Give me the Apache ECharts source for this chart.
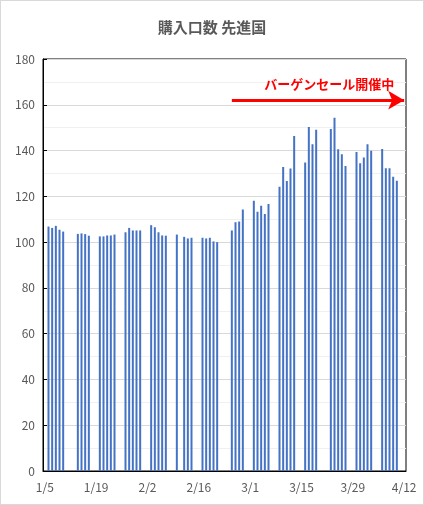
<!DOCTYPE html>
<html><head><meta charset="utf-8">
<script src="https://cdn.jsdelivr.net/npm/echarts@6/dist/echarts.min.js"></script>
<style>body{margin:0}#c{width:424px;height:505px;box-sizing:border-box;border:1px solid #d9d9d9}</style>
</head><body><div id="c"></div>
<script>
// 2020/1/5 .. 2020/4/12, daily; weekends and holidays have no value
var startDate = new Date(2020, 0, 5);
var dayCount = 99;
var values = {
  '1/6':106.8,'1/7':106.2,'1/8':107.1,'1/9':105.4,'1/10':104.6,
  '1/14':103.6,'1/15':103.8,'1/16':103.5,'1/17':102.8,
  '1/20':102.5,'1/21':102.5,'1/22':102.9,'1/23':102.9,'1/24':103.3,
  '1/27':104.3,'1/28':106.2,'1/29':105.1,'1/30':105.1,'1/31':105.1,
  '2/3':107.4,'2/4':106.5,'2/5':104.3,'2/6':102.9,'2/7':102.8,
  '2/10':103.3,'2/12':102.3,'2/13':101.6,'2/14':101.9,
  '2/17':101.9,'2/18':101.6,'2/19':101.9,'2/20':100.3,'2/21':100.0,
  '2/25':105.1,'2/26':108.7,'2/27':109.0,'2/28':114.3,
  '3/2':118.1,'3/3':113.3,'3/4':115.9,'3/5':112.3,'3/6':116.7,
  '3/9':124.2,'3/10':132.8,'3/11':126.7,'3/12':132.2,'3/13':146.4,
  '3/16':134.8,'3/17':150.3,'3/18':142.8,'3/19':149.1,
  '3/23':149.4,'3/24':154.3,'3/25':140.6,'3/26':138.4,'3/27':133.3,
  '3/30':139.4,'3/31':134.5,'4/1':137.0,'4/2':142.8,'4/3':139.9,
  '4/6':140.7,'4/7':132.3,'4/8':132.3,'4/9':128.6,'4/10':126.8
};
var saleStart = '2/25', saleEnd = '4/12', saleLevel = 162;

var dates = [], series = [];
for (var i = 0; i < dayCount; i++) {
  var d = new Date(startDate.getTime() + i * 86400000);
  var k = (d.getMonth() + 1) + '/' + d.getDate();
  dates.push(k);
  series.push(values[k] === undefined ? '-' : values[k]);
}

var chart = echarts.init(document.getElementById('c'));
chart.setOption({
  animation: false,
  title: {text: '購入口数 先進国', left: 'center', top: 14,
    textStyle: {fontFamily: 'Noto Sans CJK JP', fontSize: 15, fontWeight: 'bold', color: '#595959'}},
  grid: {left: 42, right: 17, top: 58, bottom: 33, show: true, borderColor: '#000', borderWidth: 1},
  xAxis: {type: 'category', data: dates,
    axisLine: {lineStyle: {color: '#000'}}, axisTick: {show: false},
    axisLabel: {interval: 13, color: '#595959', fontSize: 12, fontFamily: 'Noto Sans CJK JP', margin: 10}},
  yAxis: {type: 'value', min: 0, max: 180, interval: 20,
    axisLine: {show: true, lineStyle: {color: '#000'}},
    axisTick: {show: true, length: 4, inside: true, lineStyle: {color: '#000'}},
    axisLabel: {color: '#595959', fontSize: 12, fontFamily: 'Noto Sans CJK JP'},
    splitLine: {lineStyle: {color: '#d9d9d9'}},
    minorTick: {show: false, splitNumber: 2},
    minorSplitLine: {show: true, lineStyle: {color: '#f0f0f0'}}},
  series: [{
    type: 'bar', data: series, barWidth: 2,
    itemStyle: {color: '#4472c4'},
    markLine: {silent: true, symbol: ['none', 'arrow'], symbolSize: [14, 16],
      lineStyle: {color: '#ff0000', width: 3, type: 'solid'},
      label: {show: true, position: 'insideEndTop', formatter: 'バーゲンセール開催中',
        color: '#ff0000', fontWeight: 'bold', fontSize: 13, fontFamily: 'Noto Sans CJK JP', distance: 10},
      data: [[{coord: [saleStart, saleLevel]}, {coord: [saleEnd, saleLevel]}]]}
  }]
});
</script></body></html>
